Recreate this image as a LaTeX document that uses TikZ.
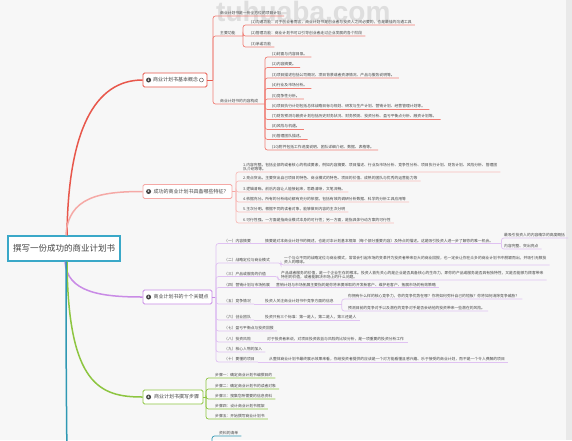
\documentclass[tikz,border=0pt]{standalone}
\usepackage{fontspec}
\setmainfont{Noto Sans CJK SC}
\newfontfamily\wmfont{Liberation Sans}
\definecolor{bg}{HTML}{F7F7F7}
\definecolor{edge}{HTML}{E9E9E9}
\definecolor{ink}{HTML}{444444}
\definecolor{cRed}{HTML}{E8574B}
\definecolor{cRedL}{HTML}{F07F76}
\definecolor{cPink}{HTML}{F5A9A6}
\definecolor{cPinkL}{HTML}{F7BDBA}
\definecolor{cPur}{HTML}{C98BE6}
\definecolor{cPurL}{HTML}{E0C2F2}
\definecolor{cGrn}{HTML}{8DC540}
\definecolor{cTeal}{HTML}{2F98B3}
\definecolor{cRoot}{HTML}{3AA8C8}
\tikzset{
  lf/.style={font=\fontsize{3.8}{4.7}\selectfont, text=ink, inner xsep=0pt, inner ysep=0.7pt, anchor=south west, align=left},
  sec/.style={draw, rounded corners=1.5pt, fill=white, font=\fontsize{5}{6}\selectfont, text=ink, inner xsep=2pt, inner ysep=1pt, line width=0.8pt, minimum height=14pt},
  icon/.style={circle, fill=ink, text=white, font=\fontsize{3.2}{3.2}\selectfont\bfseries, inner sep=0pt, minimum size=5pt},
  branch/.style={line width=1.5pt},
  ul/.style={line width=0.7pt, rounded corners=2.5pt},
}
\begin{document}
\begin{tikzpicture}[x=1pt,y=-1pt]
\useasboundingbox (0,0) rectangle (572,440);
\clip (0,0) rectangle (572,440);
\fill[bg] (0,0) rectangle (572,440);
\fill[edge] (566,0) rectangle (572,440);
\node[anchor=base west, inner sep=0, text=black!13, font=\wmfont\fontsize{28}{28}\selectfont\bfseries] (wm) at (216,21) {tuhuaba.com};

% ---------- root ----------
\node[draw=cRoot, line width=1.4pt, fill=white, minimum width=112pt, minimum height=25pt, inner sep=0pt, font=\fontsize{8.5}{9}\selectfont, text=ink] (root) at (64,248.5) {撰写一份成功的商业计划书};

% ---------- section nodes ----------
\node[sec, draw=cRed, minimum width=64pt] (s1) at (175,80) {\hspace*{7pt}商业计划书基本概念\hspace*{6pt}};
\node[icon] (i1) at ([xshift=6pt]s1.west) {1};
\node[circle, draw=ink, line width=0.4pt, inner sep=0pt, minimum size=4pt] (n1) at ([xshift=-6pt]s1.east) {};
\node[sec, draw=cPink, minimum width=89pt] (s2) at (187.5,191.5) {\hspace*{7pt}成功的商业计划书具备哪些特征？};
\node[icon] (i2) at ([xshift=6pt]s2.west) {2};
\node[sec, draw=cPur, minimum width=69pt] (s3) at (177.5,297) {\hspace*{7pt}商业计划书的十个关键点};
\node[icon] (i3) at ([xshift=6pt]s3.west) {3};
\node[sec, draw=cGrn, minimum width=60pt] (s4) at (173,397) {\hspace*{7pt}商业计划书撰写步骤};
\node[icon] (i4) at ([xshift=6pt]s4.west) {4};

% ---------- main branches ----------
\draw[branch, cRed] ([xshift=3pt]root.north) .. controls (68,130) and (95,80) .. (s1.west);
\draw[branch, cPink] ([xshift=2pt]root.north) .. controls (68,197) and (100,191.5) .. (s2.west);
\draw[branch, cPur] ([xshift=1pt]root.south) .. controls (67,292) and (100,297) .. (s3.west);
\draw[branch, cGrn] ([xshift=3pt]root.south) .. controls (68,385) and (100,397) .. (s4.west);
\draw[branch, cTeal] ([xshift=2pt]root.south) .. controls (66,400) and (67,440) .. (67,470);

% ---------- section 1 ----------
\coordinate (sp1) at (213,80);
\draw[ul, cRed] (s1.east) -- (sp1);
\node[lf] (a0) at (220,16) {商业计划书是一份全方位的项目计划};
\node[lf] (am) at (220,36) {主要功能};
\coordinate (sp1a) at (243,36);
\node[lf] (f1) at (251,25) {(1)沟通功能：对于创业者而言，商业计划书是创业者与投资人之间必要的，也是最佳的沟通工具};
\node[lf] (f2) at (251,36) {(2)管理功能：商业计划书可以引导创业者走过企业发展的各个阶段};
\node[lf] (f3) at (251,47) {(3)承诺功能};
\node[lf] (bm) at (220,104) {商业计划书的内容构成};
\coordinate (sp1b) at (265,104);
\draw[ul, cRedL] (sp1) |- ([xshift=3pt]a0.south east);
\draw[ul, cRedL] (sp1) |- (sp1a);
\draw[ul, cRedL] (sp1) |- (sp1b);
\foreach \n in {f1,f2,f3} \draw[ul, cRedL] (sp1a) |- ([xshift=3pt]\n.south east);
\node[lf] (c1) at (272,57) {(1)封面与内容目录。};
\node[lf] (c2) at (272,67.5) {(2)内容摘要。};
\node[lf] (c3) at (272,78) {(3)项目描述包括公司概况、项目背景或者资源情况、产品与服务说明等。};
\node[lf] (c4) at (272,88.5) {(4)行业及市场分析。};
\node[lf] (c5) at (272,99) {(5)竞争性分析。};
\node[lf] (c6) at (272,109.5) {(6)项目执行计划包括总体战略目标与规划、研发与生产计划、营销计划、经营管理计划等。};
\node[lf] (c7) at (272,119.5) {(7)财务预测与融资计划包括历史财务状况、财务预测、投资分析、盈亏平衡点分析、融资计划等。};
\node[lf] (c8) at (272,129.5) {(8)风险与机遇。};
\node[lf] (c9) at (272,139.5) {(9)管理团队描述。};
\node[lf] (c10) at (272,150) {(10)附件包括工作进度说明、团队详细介绍、数据、表格等。};
\foreach \n in {c1,c2,c3,c4,c5,c6,c7,c8,c9,c10} \draw[ul, cRedL] (sp1b) |- ([xshift=4pt]\n.south east);

% ---------- section 2 ----------
\coordinate (sp2) at (236,191.5);
\draw[ul, cPink] (s2.east) -- (sp2);
\node[lf] (t1) at (243,172) {1.内容完整。包括全部的或者核心的构成要素，例如内容摘要、项目描述、行业及市场分析、竞争性分析、项目执行计划、财务计划、风险分析、管理团\\队介绍等等。};
\node[lf] (t2) at (243,181) {2.亮点突出。主要突出自己项目的特色、商业模式的特色、项目的价值、成熟的团队与优秀的运营能力等};
\node[lf] (t3) at (243,192) {3.逻辑清晰。前后内容让人能接起来，思路清晰，文笔流畅。};
\node[lf] (t4) at (243,202) {4.依据充分。所有的分析结论都有充分的依据，包括有效的调研分析数据、科学的分析工具应用等};
\node[lf] (t5) at (243,212) {5.主次分明。根据不同的读者对象，能够做到内容的主次分明};
\node[lf] (t6) at (243,223) {6.可行性强。一方面是指商业模式本身的可行性；另一方面，是指具体行动方案的可行性};
\foreach \n in {t1,t2,t3,t4,t5,t6} \draw[ul, cPinkL] (sp2) |- ([xshift=3pt]\n.south east);

% ---------- section 3 ----------
\coordinate (sp3) at (216,297);
\draw[ul, cPur] (s3.east) -- (sp3);
\node[lf] (L1) at (224,243.5) {（一）内容摘要};
\node[lf] (L2) at (224,263) {（二）战略定位与商业模式};
\node[lf] (L3) at (224,276.5) {（三）产品或服务的价值};
\node[lf] (L4) at (224,287.5) {（四）营销计划与市场拓展};
\node[lf] (L5) at (224,304) {（五）竞争情况};
\node[lf] (L6) at (224,320) {（六）创业团队};
\node[lf] (L7) at (224,331) {（七）盈亏平衡点与投资回报};
\node[lf] (L8) at (224,342) {（八）投资风险};
\node[lf] (L9) at (224,352) {（九）核心人物的加入};
\node[lf] (L10) at (224,362) {（十）要懂的项目};
\foreach \n in {L1,L2,L3,L4,L5,L6,L7,L8,L9,L10} \draw[ul, cPurL] (sp3) |- ([xshift=3pt]\n.south east);

\node[lf] (D1) at (265,243.5) {摘要是对本商业计划书的概述，也是对本计划基本框架（每个部分重要内容）及特点的描述。这是吸引投资人进一步了解你的唯一机会。};
\node[lf] (D2) at (284,265) {一个与众不同的战略定位与商业模式，常常会引起市场的变革并为投资者带来巨大的商业回报，也一定会让你在众多的商业计划书中脱颖而出，并吸引无数投\\资人的眼球。};
\node[lf] (D3) at (281,280) {产品或者服务的价值，是一个企业生存的根本。投资人首先关心的是企业是否具备核心的生命力，即你的产品或服务是否具有独特性，又是否能够为顾客带来\\特别的价值，或者能解决市场上的什么问题。};
\node[lf] (D4) at (276,287.5) {营销计划与市场拓展主要指的是你将来要采取的开发新客户、维护老客户、拓展市场的有效策略};
\node[lf] (D5) at (265,304) {投资人关注商业计划书中竞争方面的信息};
\node[lf] (D6) at (265,320) {投资只有三个标准：第一是人，第二是人，第三还是人};
\node[lf] (D8) at (267,342) {对于投资者来说，对项目投资收益与风险的比较分析，是一项重要的投资分析工作};
\node[lf] (D10) at (269,362) {从整体商业计划书最终展示效果来看，你给投资者提供的应该是一个对方能看懂且感兴趣、乐于接受的商业计划，而不是一个令人费解的项目};
\draw[ul, cPurL] ([xshift=3pt]L1.south east) -- ([xshift=8pt]D1.south east);
\draw[ul, cPurL] ([xshift=3pt]L2.south east) -| ([xshift=-3pt]D2.south west) -- ([xshift=3pt]D2.south east);
\draw[ul, cPurL] ([xshift=3pt]L3.south east) -| ([xshift=-3pt]D3.south west) -- ([xshift=3pt]D3.south east);
\draw[ul, cPurL] ([xshift=3pt]L4.south east) -- ([xshift=3pt]D4.south east);
\draw[ul, cPurL] ([xshift=3pt]L5.south east) -- ([xshift=8pt]D5.south east);
\draw[ul, cPurL] ([xshift=3pt]L6.south east) -- ([xshift=3pt]D6.south east);
\draw[ul, cPurL] ([xshift=3pt]L8.south east) -- ([xshift=4pt]D8.south east);
\draw[ul, cPurL] ([xshift=3pt]L10.south east) -- ([xshift=3pt]D10.south east);

\coordinate (sp3a) at ([xshift=8pt]D1.south east);
\node[lf] (E1) at (504,238) {最吸引投资人的内容精华的高度概括};
\node[lf] (E2) at (504,249) {内容完整、突出亮点};
\foreach \n in {E1,E2} \draw[ul, cPurL] (sp3a) |- ([xshift=3pt]\n.south east);
\coordinate (sp3b) at ([xshift=8pt]D5.south east);
\node[lf] (G1) at (348,299) {你拥有什么样的核心竞争力，你的竞争优势在哪？你将如何弥补自己的短板？你将如何消除竞争威胁？};
\node[lf] (G2) at (348,311) {预测目前的竞争对手以及潜在的竞争对手是否会给他的投资带来一些潜在的风险。};
\foreach \n in {G1,G2} \draw[ul, cPurL] (sp3b) |- ([xshift=3pt]\n.south east);

% ---------- section 4 ----------
\coordinate (sp4) at (206,397);
\draw[ul, cGrn] (s4.east) -- (sp4);
\node[lf] (k1) at (215,378) {步骤一：确定商业计划书编撰目的};
\node[lf] (k2) at (215,389) {步骤二：确定商业计划书的读者对象};
\node[lf] (k3) at (215,399) {步骤三：搜集您所需要的信息资料};
\node[lf] (k4) at (215,409) {步骤四：设计商业计划书框架};
\node[lf] (k5) at (215,419) {步骤五：开始撰写商业计划书};
\foreach \n in {k1,k2,k3,k4,k5} \draw[ul, cGrn] (sp4) |- ([xshift=3pt]\n.south east);

% ---------- section 5 (partly visible) ----------
\coordinate (sp5) at (212,460);
\node[lf] (m1) at (219,436) {资料的清单};
\draw[ul, cTeal] (sp5) |- ([xshift=3pt]m1.south east);
\end{tikzpicture}
\end{document}
